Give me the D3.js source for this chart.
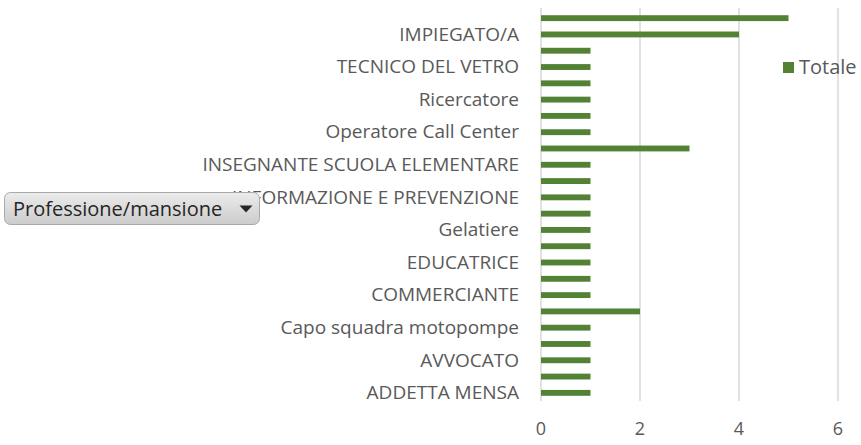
<!DOCTYPE html>
<html>
<head>
<meta charset="utf-8">
<script src="https://cdn.jsdelivr.net/npm/d3@7"></script>
<style>
    html, body { margin: 0; padding: 0; background: #fff; }
</style>
</head>
<body>
<div id="chart"></div>
<script>
'use strict';

// categories top to bottom, only every other one has a visible label
const categories = [
    '', 'IMPIEGATO/A', '', 'TECNICO DEL VETRO', '', 'Ricercatore',
    '', 'Operatore Call Center', '', 'INSEGNANTE SCUOLA ELEMENTARE', '', 'INFORMAZIONE E PREVENZIONE',
    '', 'Gelatiere', '', 'EDUCATRICE', '', 'COMMERCIANTE',
    '', 'Capo squadra motopompe', '', 'AVVOCATO', '', 'ADDETTA MENSA'
]

const totale = [
    5, 4, 1, 1, 1, 1,
    1, 1, 3, 1, 1, 1,
    1, 1, 1, 1, 1, 1,
    2, 1, 1, 1, 1, 1
]

const xTicks = [0, 2, 4, 6]
const seriesName = 'Totale'
const fieldButton = 'Professione/mansione'

function buildChart() {

    const width = 861;
    const height = 445;

    const plotLeft = 541;
    const plotRight = 838;
    const plotTop = 8;
    const plotBottom = 401;

    const green = '#548235';
    const textColor = '#595959';
    const font = '"Open Sans", sans-serif';

    const svg = d3.select('#chart')
        .append('svg')
            .attr('width', width)
            .attr('height', height)
            .style('display', 'block');

    const x = d3.scaleLinear()
        .domain([0, 6])
        .range([plotLeft, plotRight]);

    const y = d3.scaleBand()
        .domain(d3.range(categories.length))
        .range([plotTop + 2, plotBottom])
        .paddingInner(0.64)
        .paddingOuter(0.32);

    // vertical gridlines
    svg.append('g')
        .selectAll('line')
        .data(xTicks)
        .enter()
            .append('line')
                .attr('x1', d => x(d))
                .attr('x2', d => x(d))
                .attr('y1', plotTop)
                .attr('y2', plotBottom)
                .attr('stroke', '#d9d9d9')
                .attr('stroke-width', 1.5);

    // x tick labels
    svg.append('g')
        .selectAll('text')
        .data(xTicks)
        .enter()
            .append('text')
                .attr('x', d => x(d))
                .attr('y', 435)
                .attr('text-anchor', 'middle')
                .attr('font-family', font)
                .attr('font-size', 18)
                .attr('fill', textColor)
                .text(d => d);

    // bars
    svg.append('g')
        .selectAll('rect')
        .data(totale)
        .enter()
            .append('rect')
                .attr('x', x(0))
                .attr('y', (d, i) => y(i))
                .attr('width', d => x(d) - x(0))
                .attr('height', y.bandwidth())
                .attr('fill', green);

    // category labels
    svg.append('g')
        .selectAll('text')
        .data(categories.map((label, i) => ({ label, i })).filter(d => d.label))
        .enter()
            .append('text')
                .attr('x', plotLeft - 22)
                .attr('y', d => y(d.i) + y.bandwidth() / 2)
                .attr('dy', '0.33em')
                .attr('text-anchor', 'end')
                .attr('font-family', font)
                .attr('font-size', 19)
                .attr('fill', textColor)
                .text(d => d.label);

    // legend
    const legend = svg.append('g')
        .attr('transform', 'translate(783, 62)');

    legend.append('rect')
        .attr('width', 11)
        .attr('height', 11)
        .attr('fill', green);

    legend.append('text')
        .attr('x', 16)
        .attr('y', 11.5)
        .attr('font-family', font)
        .attr('font-size', 20)
        .attr('fill', textColor)
        .text(seriesName);

    // pivot field button
    const defs = svg.append('defs');
    const grad = defs.append('linearGradient')
        .attr('id', 'btnGrad')
        .attr('x1', 0).attr('y1', 0)
        .attr('x2', 0).attr('y2', 1);
    grad.append('stop').attr('offset', '0%').attr('stop-color', '#ececec');
    grad.append('stop').attr('offset', '100%').attr('stop-color', '#cbcbcb');

    const button = svg.append('g')
        .attr('transform', 'translate(4.5, 192.5)');

    button.append('rect')
        .attr('width', 255)
        .attr('height', 32)
        .attr('rx', 6)
        .attr('fill', 'url(#btnGrad)')
        .attr('stroke', '#a9a9a9')
        .attr('stroke-width', 1);

    button.append('text')
        .attr('x', 8.5)
        .attr('y', 23)
        .attr('font-family', font)
        .attr('font-size', 20)
        .attr('fill', '#262626')
        .text(fieldButton);

    button.append('path')
        .attr('d', 'M235,13 L248,13 L241.5,20 Z')
        .attr('fill', '#262626');
}

window.addEventListener('DOMContentLoaded', (event) => {
    buildChart();
});
</script>
</body>
</html>
